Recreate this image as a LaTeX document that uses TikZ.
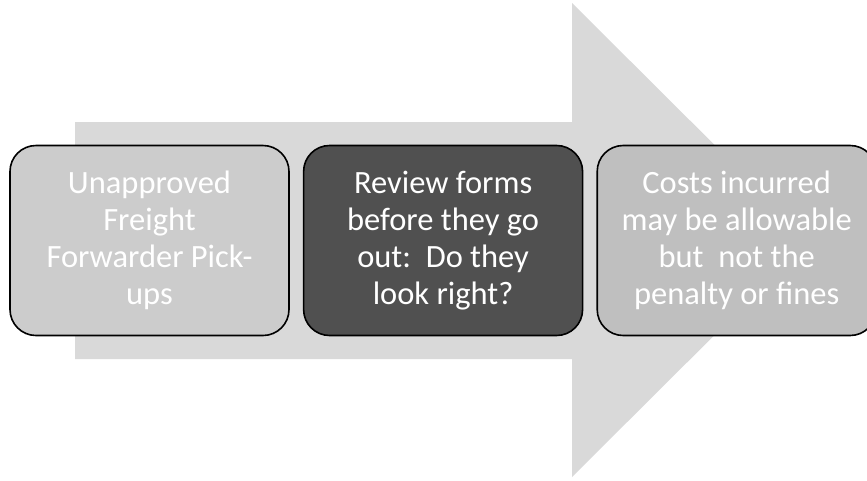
\documentclass[tikz,border=0pt]{standalone}
\usepackage{fontspec}
\setmainfont{Carlito}
\usetikzlibrary{positioning}
\definecolor{arrowgray}{HTML}{D9D9D9}
\definecolor{boxlight}{HTML}{CCCCCC}
\definecolor{boxmid}{HTML}{BFBFBF}
\definecolor{boxdark}{HTML}{505050}
\tikzset{
      stepbox/.style={
          rectangle,
          rounded corners=26pt,
          line width=1.6pt,
          draw=black,
          minimum width=279pt,
          minimum height=190pt,
          text=white,
          align=center,
          font=\fontsize{32.5}{37}\selectfont
      }
  }

\begin{document}
\begin{tikzpicture}[x=1pt,y=-1pt]
    \useasboundingbox (0,0) rectangle (867,480);
    % big arrow behind the steps
    \fill[arrowgray] (75,122) -- (572,122) -- (572,3) -- (810,240) -- (572,477)
        -- (572,359) -- (75,359) -- cycle;

    \node [stepbox, fill=boxlight] (s1) at (149.5,240.5) {Unapproved\\Freight\\Forwarder Pick-\\ups};
    \node [stepbox, fill=boxdark, right=13pt of s1] (s2) {Review forms\\before they go\\out:~~Do they\\look right?};
    \node [stepbox, fill=boxmid, right=13pt of s2] (s3) {Costs incurred\\may be allowable\\but~~not the\\penalty or fines};
\end{tikzpicture}
\end{document}
